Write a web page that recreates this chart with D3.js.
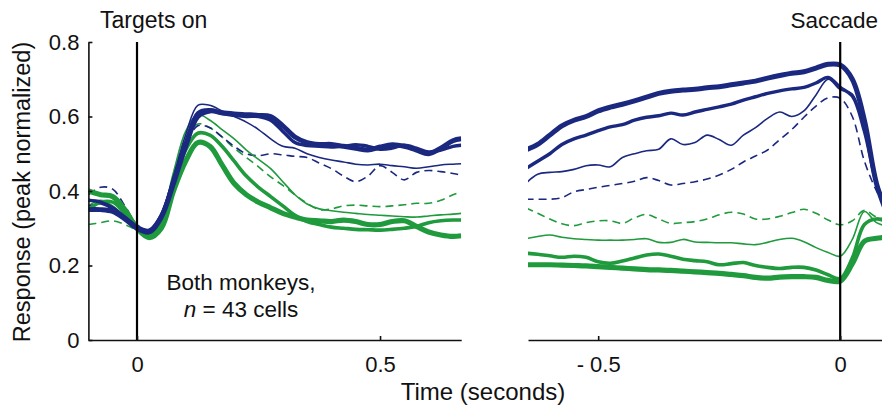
<!DOCTYPE html>
<html>
<head>
<meta charset="utf-8">
<script src="https://cdn.jsdelivr.net/npm/d3@7"></script>
<style>
  html, body { margin: 0; padding: 0; background: #fff; }
  svg { display: block; }
  text { font-family: "Liberation Sans", Arial, Helvetica, sans-serif; fill: #111; }
</style>
</head>
<body>
<svg id="chart" width="882" height="409"></svg>
<script>
// time grids (seconds)
var leftTime = [-0.1, -0.075, -0.05, -0.025, 0, 0.025, 0.05, 0.075, 0.1, 0.125, 0.15, 0.175, 0.2, 0.225, 0.25, 0.275,
  0.3, 0.325, 0.35, 0.375, 0.4, 0.425, 0.45, 0.475, 0.5, 0.525, 0.55, 0.575, 0.6, 0.625, 0.65, 0.667];
var rightTime = [-0.65, -0.625, -0.6, -0.575, -0.55, -0.525, -0.5, -0.475, -0.45, -0.425, -0.4, -0.375, -0.35, -0.325,
  -0.3, -0.275, -0.25, -0.225, -0.2, -0.175, -0.15, -0.125, -0.1, -0.075, -0.05, -0.025, 0, 0.025, 0.05, 0.075, 0.1];

// aligned to targets on
var targetsBlueThickest = [0.35, 0.35, 0.345, 0.325, 0.30, 0.29, 0.33, 0.42, 0.52, 0.60, 0.615, 0.61, 0.607, 0.605, 0.603, 0.60,
  0.575, 0.545, 0.53, 0.525, 0.525, 0.52, 0.515, 0.51, 0.518, 0.524, 0.52, 0.51, 0.50, 0.515, 0.535, 0.54];
var targetsBlueThick = [0.375, 0.37, 0.355, 0.33, 0.305, 0.295, 0.335, 0.43, 0.53, 0.61, 0.618, 0.608, 0.603, 0.60, 0.60, 0.59,
  0.56, 0.53, 0.522, 0.52, 0.518, 0.52, 0.524, 0.52, 0.512, 0.515, 0.523, 0.515, 0.505, 0.51, 0.52, 0.523];
var targetsBlueThin = [0.36, 0.365, 0.35, 0.33, 0.305, 0.295, 0.34, 0.44, 0.55, 0.63, 0.63, 0.615, 0.60, 0.585, 0.565, 0.54,
  0.52, 0.515, 0.50, 0.49, 0.483, 0.478, 0.472, 0.47, 0.472, 0.468, 0.465, 0.461, 0.465, 0.47, 0.472, 0.473];
var targetsBlueDashed = [0.39, 0.41, 0.405, 0.36, 0.31, 0.295, 0.33, 0.42, 0.52, 0.575, 0.57, 0.545, 0.52, 0.50, 0.495, 0.50,
  0.497, 0.493, 0.49, 0.475, 0.46, 0.44, 0.425, 0.44, 0.468, 0.45, 0.43, 0.45, 0.455, 0.452, 0.447, 0.443];
var targetsGreenThickest = [0.40, 0.39, 0.385, 0.35, 0.30, 0.275, 0.30, 0.40, 0.48, 0.53, 0.52, 0.47, 0.42, 0.39, 0.37, 0.355,
  0.34, 0.33, 0.322, 0.32, 0.318, 0.322, 0.318, 0.31, 0.31, 0.318, 0.32, 0.305, 0.29, 0.282, 0.278, 0.28];
var targetsGreenThick = [0.35, 0.37, 0.37, 0.34, 0.305, 0.28, 0.32, 0.42, 0.51, 0.555, 0.55, 0.52, 0.48, 0.44, 0.41, 0.385,
  0.36, 0.335, 0.318, 0.31, 0.303, 0.30, 0.297, 0.296, 0.295, 0.297, 0.30, 0.305, 0.315, 0.32, 0.322, 0.322];
var targetsGreenThin = [0.36, 0.375, 0.36, 0.33, 0.30, 0.285, 0.33, 0.45, 0.56, 0.605, 0.59, 0.565, 0.54, 0.51, 0.485, 0.46,
  0.425, 0.39, 0.365, 0.352, 0.347, 0.343, 0.34, 0.337, 0.335, 0.333, 0.331, 0.33, 0.333, 0.336, 0.338, 0.34];
var targetsGreenDashed = [0.31, 0.315, 0.32, 0.31, 0.295, 0.285, 0.33, 0.44, 0.54, 0.58, 0.57, 0.545, 0.515, 0.49, 0.465, 0.438,
  0.415, 0.39, 0.367, 0.35, 0.352, 0.36, 0.362, 0.36, 0.358, 0.36, 0.363, 0.367, 0.367, 0.375, 0.39, 0.398];

// aligned to saccade
var saccadeBlueThickest = [0.51, 0.525, 0.55, 0.575, 0.59, 0.60, 0.615, 0.625, 0.633, 0.642, 0.652, 0.662, 0.668, 0.671,
  0.673, 0.677, 0.68, 0.685, 0.69, 0.695, 0.703, 0.71, 0.716, 0.72, 0.73, 0.74, 0.738, 0.70, 0.59, 0.42, 0.33];
var saccadeBlueThick = [0.46, 0.48, 0.50, 0.525, 0.54, 0.55, 0.562, 0.572, 0.578, 0.59, 0.598, 0.602, 0.609, 0.604,
  0.612, 0.619, 0.626, 0.633, 0.644, 0.653, 0.662, 0.669, 0.674, 0.678, 0.69, 0.705, 0.678, 0.655, 0.56, 0.42, 0.34];
var saccadeBlueThin = [0.42, 0.445, 0.45, 0.452, 0.458, 0.468, 0.47, 0.465, 0.49, 0.50, 0.508, 0.512, 0.54, 0.525,
  0.53, 0.55, 0.538, 0.523, 0.55, 0.57, 0.595, 0.612, 0.60, 0.615, 0.658, 0.70, 0.672, 0.66, 0.56, 0.42, 0.34];
var saccadeBlueDashed = [0.378, 0.378, 0.378, 0.382, 0.398, 0.404, 0.41, 0.415, 0.42, 0.426, 0.436, 0.428, 0.416, 0.42,
  0.425, 0.432, 0.443, 0.458, 0.478, 0.494, 0.51, 0.538, 0.565, 0.598, 0.628, 0.65, 0.649, 0.60, 0.48, 0.40, 0.34];
var saccadeGreenThickest = [0.202, 0.202, 0.202, 0.201, 0.20, 0.199, 0.197, 0.195, 0.193, 0.191, 0.189, 0.188, 0.187, 0.185,
  0.183, 0.181, 0.179, 0.176, 0.173, 0.168, 0.166, 0.169, 0.17, 0.17, 0.168, 0.16, 0.158, 0.205, 0.265, 0.273, 0.277];
var saccadeGreenThick = [0.233, 0.23, 0.226, 0.222, 0.225, 0.222, 0.21, 0.206, 0.212, 0.22, 0.228, 0.231, 0.225, 0.217,
  0.213, 0.21, 0.202, 0.205, 0.208, 0.20, 0.195, 0.192, 0.195, 0.195, 0.188, 0.175, 0.165, 0.22, 0.31, 0.325, 0.315];
var saccadeGreenThin = [0.272, 0.278, 0.282, 0.276, 0.272, 0.27, 0.268, 0.268, 0.268, 0.27, 0.272, 0.262, 0.262, 0.27,
  0.263, 0.262, 0.261, 0.261, 0.258, 0.256, 0.262, 0.27, 0.273, 0.264, 0.248, 0.235, 0.225, 0.27, 0.345, 0.315, 0.305];
var saccadeGreenDashed = [0.355, 0.34, 0.325, 0.312, 0.307, 0.315, 0.32, 0.32, 0.313, 0.328, 0.337, 0.325, 0.313, 0.315,
  0.318, 0.325, 0.336, 0.343, 0.338, 0.325, 0.325, 0.332, 0.342, 0.351, 0.34, 0.322, 0.309, 0.32, 0.348, 0.33, 0.325];

var yTicks = [0, 0.2, 0.4, 0.6, 0.8];
var leftTicks = [0, 0.5];
var rightTicks = [-0.5, 0];

var blue = '#1b2880', green = '#1f9a3c';

var svg = d3.select('#chart');

var y = d3.scaleLinear().domain([0, 0.8]).range([340, 42]);
var xLeft = d3.scaleLinear().domain([-0.1, 0.667]).range([88.4, 461.2]);
var xRight = d3.scaleLinear().domain([-0.645, 0.1]).range([528, 888.6]);

function styleAxis(g) {
  g.select('.domain').attr('stroke', '#111').attr('stroke-width', 1.6);
  g.selectAll('.tick line').attr('stroke', '#111').attr('stroke-width', 1.6);
  g.selectAll('.tick text').style('font-size', '22px').attr('fill', '#111');
}

var defs = svg.append('defs');
defs.append('clipPath').attr('id', 'clipLeft').append('rect')
  .attr('x', xLeft.range()[0]).attr('y', 0).attr('width', xLeft.range()[1] - xLeft.range()[0]).attr('height', 409);
defs.append('clipPath').attr('id', 'clipRight').append('rect')
  .attr('x', xRight.range()[0]).attr('y', 0).attr('width', 400).attr('height', 409);

function drawPanel(x, times, series, clipId) {
  var line = d3.line()
    .x(function(d, i) { return x(times[i]); })
    .y(function(d) { return y(d); })
    .curve(d3.curveCatmullRom.alpha(0.5));

  var g = svg.append('g').attr('clip-path', 'url(#' + clipId + ')');
  g.selectAll('path.series')
    .data(series)
    .enter().append('path')
      .attr('class', 'series')
      .attr('fill', 'none')
      .attr('stroke', function(s) { return s.color; })
      .attr('stroke-width', function(s) { return s.width; })
      .attr('stroke-dasharray', function(s) { return s.dash ? '8,5' : null; })
      .attr('stroke-linejoin', 'round')
      .attr('d', function(s) { return line(s.values); });

  // event marker
  svg.append('line')
    .attr('x1', x(0)).attr('x2', x(0))
    .attr('y1', y(0.8)).attr('y2', y(0))
    .attr('stroke', '#000').attr('stroke-width', 2.2);
}

drawPanel(xLeft, leftTime, [
  { values: targetsGreenDashed, color: green, width: 1.6, dash: true },
  { values: targetsBlueDashed, color: blue, width: 1.6, dash: true },
  { values: targetsGreenThin, color: green, width: 1.6 },
  { values: targetsBlueThin, color: blue, width: 1.6 },
  { values: targetsGreenThick, color: green, width: 3.6 },
  { values: targetsGreenThickest, color: green, width: 5.2 },
  { values: targetsBlueThick, color: blue, width: 3.4 },
  { values: targetsBlueThickest, color: blue, width: 5 }
], 'clipLeft');

drawPanel(xRight, rightTime, [
  { values: saccadeGreenDashed, color: green, width: 1.6, dash: true },
  { values: saccadeBlueDashed, color: blue, width: 1.6, dash: true },
  { values: saccadeGreenThin, color: green, width: 1.6 },
  { values: saccadeBlueThin, color: blue, width: 1.6 },
  { values: saccadeGreenThick, color: green, width: 3.6 },
  { values: saccadeGreenThickest, color: green, width: 5.2 },
  { values: saccadeBlueThick, color: blue, width: 3.4 },
  { values: saccadeBlueThickest, color: blue, width: 5 }
], 'clipRight');

// axes
svg.append('g')
  .attr('transform', 'translate(' + xLeft.range()[0] + ',0)')
  .call(d3.axisLeft(y).tickValues(yTicks).tickSizeInner(-4).tickSizeOuter(0).tickPadding(9)
    .tickFormat(function(d) { return d === 0 ? '0' : d.toFixed(1); }))
  .call(styleAxis);

svg.append('g')
  .attr('transform', 'translate(0,' + y(0) + ')')
  .call(d3.axisBottom(xLeft).tickValues(leftTicks).tickSizeInner(-4).tickSizeOuter(0).tickPadding(16)
    .tickFormat(function(d) { return d === 0 ? '0' : String(d); }))
  .call(styleAxis);

svg.append('g')
  .attr('transform', 'translate(0,' + y(0) + ')')
  .call(d3.axisBottom(xRight).tickValues(rightTicks).tickSizeInner(-4).tickSizeOuter(0).tickPadding(16)
    .tickFormat(function(d) { return d < 0 ? '- ' + Math.abs(d) : '0'; }))
  .call(styleAxis);

svg.selectAll('.domain').attr('fill', 'none');

// labels
svg.append('text')
  .attr('transform', 'translate(30,' + 192 + ') rotate(-90)')
  .attr('text-anchor', 'middle')
  .style('font-size', '23.5px')
  .text('Response (peak normalized)');

svg.append('text')
  .attr('x', 483).attr('y', 400)
  .attr('text-anchor', 'middle')
  .style('font-size', '24px')
  .text('Time (seconds)');

svg.append('text')
  .attr('x', 100).attr('y', 28)
  .style('font-size', '23px')
  .text('Targets on');

svg.append('text')
  .attr('x', 878).attr('y', 28)
  .attr('text-anchor', 'end')
  .style('font-size', '22.5px')
  .text('Saccade');

svg.append('text')
  .attr('x', 241).attr('y', 290)
  .attr('text-anchor', 'middle')
  .style('font-size', '22.5px')
  .text('Both monkeys,');

var nText = svg.append('text')
  .attr('x', 241).attr('y', 317)
  .attr('text-anchor', 'middle')
  .style('font-size', '22.5px');
nText.append('tspan').style('font-style', 'italic').text('n');
nText.append('tspan').text(' = 43 cells');
</script>
</body>
</html>
